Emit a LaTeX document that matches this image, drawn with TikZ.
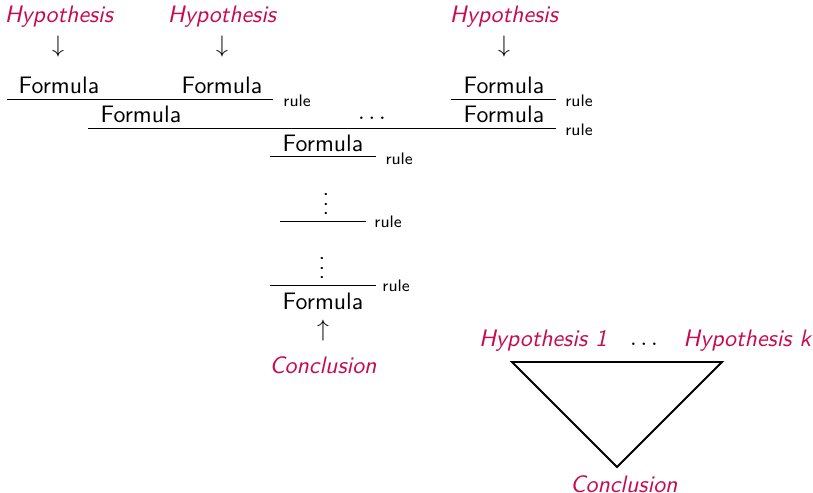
\documentclass[tikz,border=0pt]{standalone}
\usepackage{amsmath}
\usepackage{amssymb}

\definecolor{hypred}{RGB}{200,10,80}

\tikzset{
    hyp/.style={text=hypred, font=\sffamily\itshape},
    rulename/.style={font=\sffamily\scriptsize, anchor=west},
}

\begin{document}
\begin{tikzpicture}[font=\sffamily, every node/.style={inner sep=0pt}]
    \useasboundingbox (0,0) rectangle (12,7.276);
    % Hypotheses at the top of the tree.
        \node[hyp] (hypa) at (0.870,7.025) {Hypothesis};
        \node[hyp] (hypb) at (3.277,7.025) {Hypothesis};
        \node[hyp] (hypc) at (7.439,7.025) {Hypothesis};
        \node[] (downa) at (0.856,6.582) {$\downarrow$};
        \node[] (downb) at (3.277,6.582) {$\downarrow$};
        \node[] (downc) at (7.439,6.582) {$\downarrow$};
    % First row of formulas.
        \node[] (fa) at (0.871,6.021) {Formula};
        \node[] (fb) at (3.277,6.021) {Formula};
        \node[] (fc) at (7.439,6.021) {Formula};
        \draw (0.103,5.815) -- (4.030,5.815);
        \node[rulename] (ra) at (4.177,5.785) {rule};
        \draw (6.657,5.815) -- (8.207,5.815);
        \node[rulename] (rb) at (8.339,5.785) {rule};
    % Second row.
        \node[] (fd) at (2.081,5.593) {Formula};
        \node[] (dotsa) at (5.520,5.534) {$\dots$};
        \node[] (fe) at (7.439,5.593) {Formula};
        \draw (1.299,5.387) -- (8.207,5.387);
        \node[rulename] (rc) at (8.339,5.357) {rule};
    % Third row and the trunk.
        \node[] (ff) at (4.768,5.165) {Formula};
        \draw (3.985,4.959) -- (5.550,4.959);
        \node[rulename] (rd) at (5.683,4.929) {rule};
        \node[anchor=base] (vda) at (4.812,4.103) {$\vdots$};
        \draw (4.133,4.014) -- (5.402,4.014);
        \node[rulename] (re) at (5.520,3.999) {rule};
        \node[anchor=base] (vdb) at (4.753,3.158) {$\vdots$};
        \draw (3.985,3.069) -- (5.550,3.069);
        \node[rulename] (rf) at (5.638,3.055) {rule};
        \node[] (fg) at (4.768,2.833) {Formula};
        \node[] (up) at (4.768,2.390) {$\uparrow$};
        \node[hyp] (concla) at (4.768,1.889) {Conclusion};
    % The triangle on the right.
        \node[hyp] (hypone) at (8.015,2.243) {Hypothesis 1};
        \node[] (dotsb) at (9.535,2.198) {$\dots$};
        \node[hyp] (hypk) at (11.030,2.243) {Hypothesis k};
        \coordinate (tl) at (7.557,1.933);
        \coordinate (tr) at (10.657,1.933);
        \coordinate (bt) at (9.107,0.383);
        \draw[thick] (tl) -- (tr) -- (bt) -- cycle;
        \node[hyp] (conclb) at (9.210,0.135) {Conclusion};
\end{tikzpicture}
\end{document}
